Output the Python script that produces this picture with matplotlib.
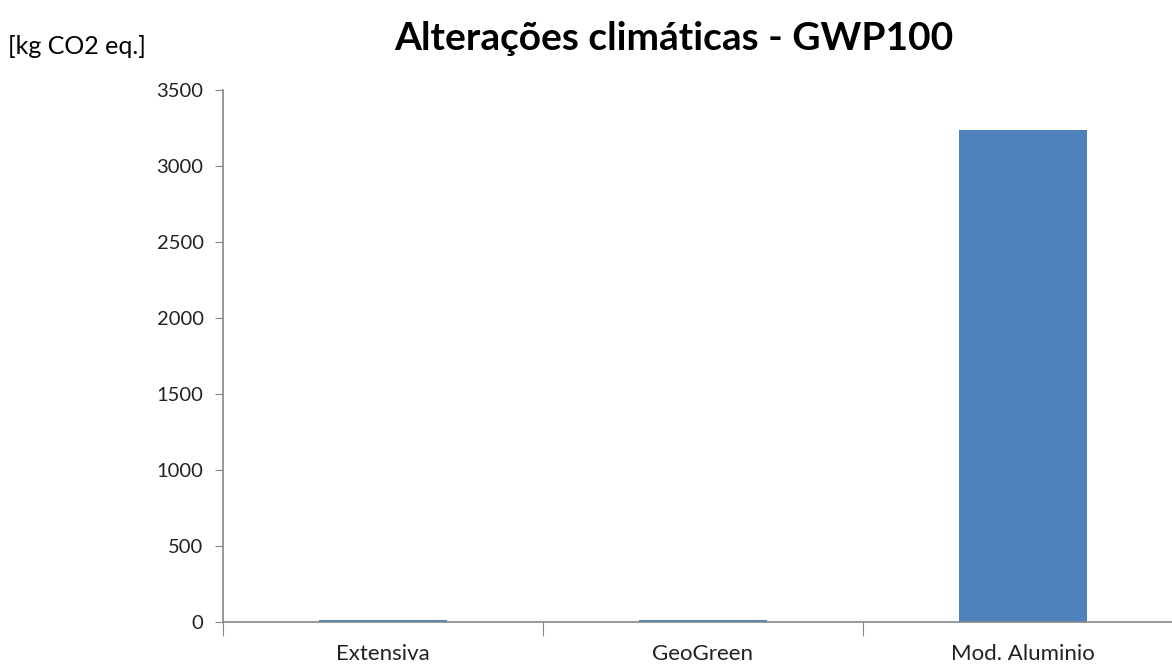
import matplotlib
matplotlib.use("Agg")
import matplotlib.pyplot as plt

categories = ["Extensiva", "GeoGreen", "Mod. Aluminio"]
values = [15, 14, 3240]
yticks = [0, 500, 1000, 1500, 2000, 2500, 3000, 3500]

font = ["Lato", "DejaVu Sans"]

fig = plt.figure(figsize=(11.72, 6.66), dpi=100)
ax = fig.add_axes([223/1172, 1-622/666, 960/1172, 532/666])

x = list(range(len(categories)))
ax.bar(x, values, width=0.4, color="#4f81bd", zorder=2)
ax.set_xlim(-0.5, 2.5)
ax.set_ylim(0, 3500)
ax.set_yticks(yticks)
ax.set_yticklabels([str(v) for v in yticks], fontsize=14.5, family=font, color="#222222")

ax.set_xticks([-0.5, 0.5, 1.5, 2.5])
ax.set_xticklabels([])
ax.set_xticks(x, minor=True)
ax.set_xticklabels(categories, minor=True, fontsize=16, family=font, color="#222222")
ax.tick_params(axis="x", which="major", length=10, color="#868686", direction="out")
ax.tick_params(axis="x", which="minor", length=0, pad=16)
ax.tick_params(axis="y", length=6, color="#868686", direction="out", pad=8)

for s in ["top", "right"]:
    ax.spines[s].set_visible(False)
for s in ["left", "bottom"]:
    ax.spines[s].set_color("#868686")
    ax.spines[s].set_linewidth(1.2)

fig.text(674/1172, 1-38/666, "Alterações climáticas - GWP100", ha="center", va="center",
         fontsize=28, fontweight="bold", family=font)
fig.text(8/1172, 1-46/666, "[kg CO2 eq.]", ha="left", va="center", fontsize=18, family=font)

fig.savefig("out.png", dpi=100)
